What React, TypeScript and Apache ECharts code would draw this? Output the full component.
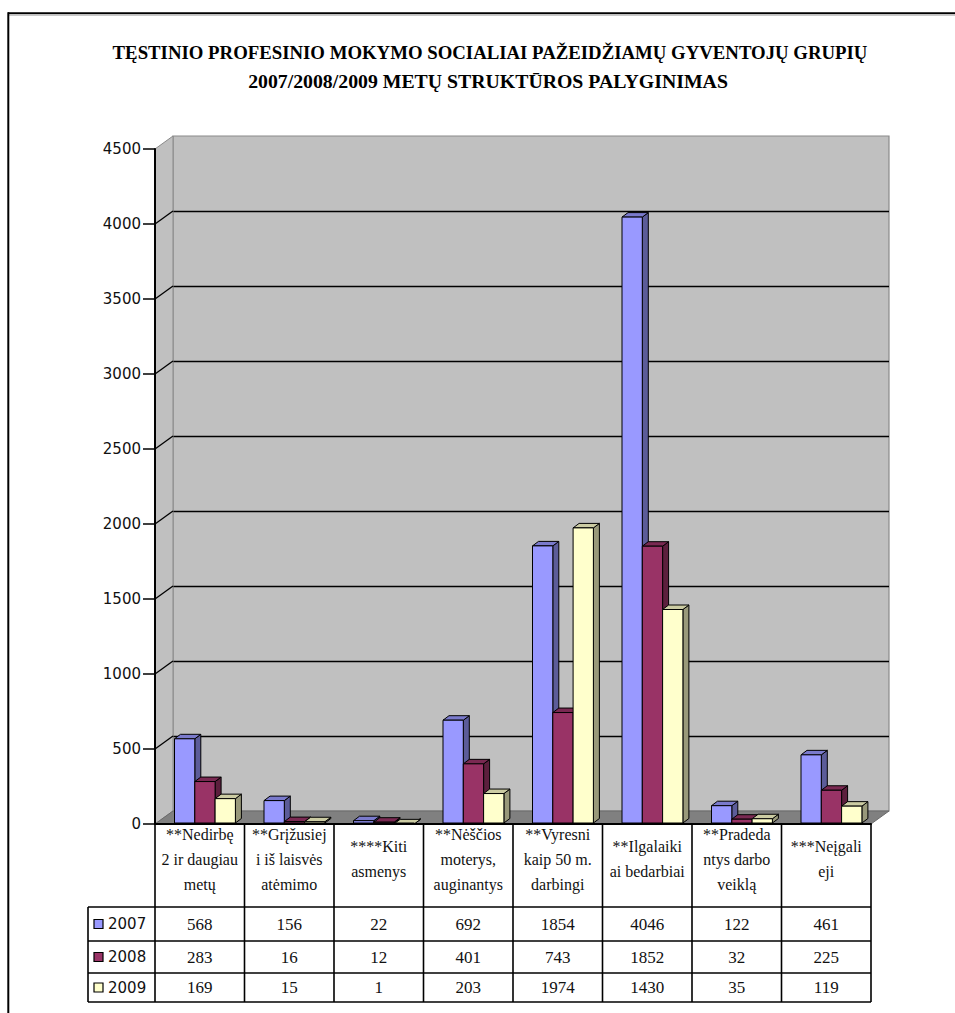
import React, { useEffect, useRef } from "react";
import * as echarts from "echarts";

const categories = [
  "**Nedirbę\n2 ir daugiau\nmetų",
  "**Grįžusiej\ni iš laisvės\natėmimo",
  "****Kiti\nasmenys",
  "**Nėščios\nmoterys,\nauginantys",
  "**Vyresni\nkaip 50 m.\ndarbingi",
  "**Ilgalaiki\nai bedarbiai",
  "**Pradeda\nntys darbo\nveiklą",
  "***Neįgali\neji",
];
const years = ["2007", "2008", "2009"];
const values2007 = [568, 156, 22, 692, 1854, 4046, 122, 461];
const values2008 = [283, 16, 12, 401, 743, 1852, 32, 225];
const values2009 = [169, 15, 1, 203, 1974, 1430, 35, 119];
const yTicks = [0, 500, 1000, 1500, 2000, 2500, 3000, 3500, 4000, 4500];
const titleLines = [
  "TĘSTINIO PROFESINIO MOKYMO SOCIALIAI PAŽEIDŽIAMŲ GYVENTOJŲ GRUPIŲ",
  "2007/2008/2009 METŲ STRUKTŪROS PALYGINIMAS",
];

const seriesValues = [values2007, values2008, values2009];
const palette = [
  { front: "#9999FF", top: "#7A7ACC", side: "#5C5C99" },
  { front: "#993366", top: "#7A2952", side: "#5C1F3D" },
  { front: "#FFFFCC", top: "#CCCCA3", side: "#99997A" },
];

const SERIF = "'Liberation Serif', 'Times New Roman', 'DejaVu Serif', serif";
const SANS = "'DejaVu Sans', Verdana, sans-serif";

// layout constants
const GL = 155, GT = 149, GW = 716, GH = 675;
const DX = 18, DY = -13;
const rowLines = [907, 941, 973, 1002];
const headerTop = 825;
const legendLeft = 88;

export default function App() {
  const ref = useRef<HTMLDivElement>(null);
  useEffect(() => {
    const chart = echarts.init(ref.current!, null, { renderer: "svg" });
    const colW = GW / categories.length;

    const barRender = (s: number) => (params: any, api: any) => {
      const cat = api.value(0);
      const v = api.value(1);
      const top = api.coord([cat, v]);
      const base = api.coord([cat, 0]);
      const band = api.size([1, 0])[0];
      const bw = band * (20.3 / 89.5);
      const x0 = top[0] - band / 2 + band * (19.5 / 89.5) + s * bw;
      const yTop = top[1];
      const yBot = base[1] - 1;
      const dx = 6, dy = -4.5;
      const c = palette[s];
      return {
        type: "group",
        children: [
          {
            type: "polygon",
            shape: { points: [[x0 + bw, yTop], [x0 + bw + dx, yTop + dy], [x0 + bw + dx, yBot + dy], [x0 + bw, yBot]] },
            style: { fill: c.side, stroke: "#000", lineWidth: 1 },
          },
          {
            type: "polygon",
            shape: { points: [[x0, yTop], [x0 + dx, yTop + dy], [x0 + bw + dx, yTop + dy], [x0 + bw, yTop]] },
            style: { fill: c.top, stroke: "#000", lineWidth: 1 },
          },
          {
            type: "rect",
            shape: { x: x0, y: yTop, width: bw, height: yBot - yTop },
            style: { fill: c.front, stroke: "#000", lineWidth: 1 },
          },
        ],
      };
    };

    const wallRender = (params: any, api: any) => {
      const v = api.value(0);
      const p = api.coord([0, v]);
      const band = api.size([1, 0])[0];
      const xL = p[0] - band / 2;
      const children: any[] = [];
      if (params.dataIndex === 0) {
        const yTopF = api.coord([0, yTicks[yTicks.length - 1]])[1];
        const xR = api.coord([categories.length - 1, 0])[0] + band / 2;
        children.push({
          type: "polygon",
          shape: { points: [[xL, yTopF], [xL + DX, yTopF + DY], [xL + DX, p[1] + DY], [xL, p[1]]] },
          style: { fill: "#C0C0C0", stroke: "#8a8a8a", lineWidth: 1 },
        });
        children.push({
          type: "polygon",
          shape: { points: [[xL, p[1]], [xR, p[1]], [xR + DX, p[1] + DY], [xL + DX, p[1] + DY]] },
          style: { fill: "#808080", stroke: "#6a6a6a", lineWidth: 1 },
        });
      } else if (v !== yTicks[yTicks.length - 1]) {
        children.push({
          type: "line",
          shape: { x1: xL, y1: p[1], x2: xL + DX, y2: p[1] + DY },
          style: { stroke: "#000", lineWidth: 1.3 },
        });
      }
      return { type: "group", children };
    };

    // table graphics
    const g: any[] = [];
    const xEnd = GL + GW;
    rowLines.forEach((y) => {
      g.push({ type: "line", shape: { x1: legendLeft, y1: y, x2: xEnd, y2: y }, style: { stroke: "#000", lineWidth: 1.6 } });
    });
    for (let j = 0; j <= categories.length; j++) {
      const x = GL + j * colW;
      g.push({ type: "line", shape: { x1: x, y1: headerTop - 1, x2: x, y2: rowLines[3] }, style: { stroke: "#000", lineWidth: 1.6 } });
    }
    g.push({ type: "line", shape: { x1: legendLeft, y1: rowLines[0], x2: legendLeft, y2: rowLines[3] }, style: { stroke: "#000", lineWidth: 1.6 } });
    years.forEach((yr, i) => {
      const yc = (rowLines[i] + rowLines[i + 1]) / 2;
      g.push({
        type: "rect",
        shape: { x: 94, y: yc - 4.5, width: 9, height: 9 },
        style: { fill: palette[i].front, stroke: "#000", lineWidth: 1.2 },
      });
      g.push({
        type: "text",
        x: 108, y: yc,
        style: { text: yr, fontFamily: SANS, fontSize: 15, fill: "#111", textAlign: "left", textVerticalAlign: "middle" },
      });
      seriesValues[i].forEach((v, j) => {
        g.push({
          type: "text",
          x: GL + (j + 0.5) * colW, y: yc,
          style: { text: String(v), fontFamily: SERIF, fontSize: 17, fill: "#111", textAlign: "center", textVerticalAlign: "middle" },
        });
      });
    });
    titleLines.forEach((t, i) => {
      g.push({
        type: "text",
        x: i === 0 ? 490 : 488, y: i === 0 ? 52 : 81,
        style: { text: t, fontFamily: SERIF, fontWeight: "bold", fontSize: i === 0 ? 18.8 : 19.8, fill: "#000", textAlign: "center", textVerticalAlign: "middle" },
      });
    });
    g.push({ type: "line", shape: { x1: 8, y1: 13.3, x2: 955, y2: 13.3 }, style: { stroke: "#000", lineWidth: 2 } });
    g.push({ type: "line", shape: { x1: 9, y1: 15.5, x2: 955, y2: 15.5 }, style: { stroke: "#c8c8c8", lineWidth: 1 } });
    g.push({ type: "line", shape: { x1: 8.3, y1: 12.3, x2: 8.3, y2: 1013 }, style: { stroke: "#000", lineWidth: 2 } });

    chart.setOption({
      animation: false,
      backgroundColor: "#fff",
      grid: [
        { left: GL, top: GT, width: GW, height: GH, containLabel: false },
        {
          left: GL + DX, top: GT + DY, width: GW, height: GH, containLabel: false,
          show: true, backgroundColor: "#C0C0C0", borderColor: "#8a8a8a", borderWidth: 1.2, z: 0,
        },
      ],
      xAxis: [
        {
          type: "category", gridIndex: 0, data: categories,
          axisLine: { show: true, lineStyle: { color: "#000", width: 2 } },
          axisTick: { show: false },
          axisLabel: {
            interval: 0, hideOverlap: false, margin: 35, verticalAlign: "middle",
            fontFamily: SERIF, fontSize: 16, lineHeight: 25, color: "#111", align: "center",
          },
          z: 5,
        },
        { type: "category", gridIndex: 1, data: categories, show: false },
      ],
      yAxis: [
        {
          type: "value", gridIndex: 0, min: 0, max: 4500, interval: 500,
          axisLine: { show: true, lineStyle: { color: "#000", width: 2 } },
          axisTick: { show: true, length: 12, lineStyle: { color: "#000", width: 1.5 } },
          axisLabel: { margin: 14, fontFamily: SANS, fontSize: 15, color: "#111", formatter: (v: number) => String(v) },
          splitLine: { show: false },
          z: 5,
        },
        {
          type: "value", gridIndex: 1, min: 0, max: 4500, interval: 500,
          axisLine: { show: false }, axisTick: { show: false }, axisLabel: { show: false },
          splitLine: { show: true, showMinLine: false, showMaxLine: false, lineStyle: { color: "#000", width: 1.3 } },
        },
      ],
      series: [
        {
          type: "custom", name: "walls", xAxisIndex: 0, yAxisIndex: 0, z: 1,
          data: yTicks.map((v) => [v]),
          encode: { y: 0 },
          renderItem: wallRender, clip: false, silent: true,
        },
        ...years.map((yr, s) => ({
          type: "custom", name: yr, xAxisIndex: 0, yAxisIndex: 0, z: 2 + s,
          data: seriesValues[s].map((v, i) => [i, v]),
          encode: { x: 0, y: 1 },
          renderItem: barRender(s), clip: false,
        })),
      ],
      graphic: g,
    });
    return () => chart.dispose();
  }, []);
  return <div ref={ref} style={{ position: "absolute", left: 0, top: 0, width: 955, height: 1013 }} />;
}
